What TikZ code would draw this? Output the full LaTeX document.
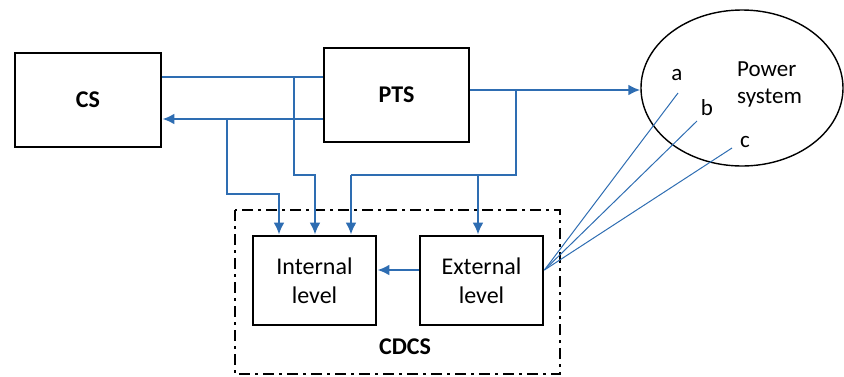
\documentclass[tikz,border=0pt]{standalone}
\usepackage{fontspec}
\setmainfont{Carlito}
\usetikzlibrary{arrows.meta,shapes.geometric}

\definecolor{flowblue}{RGB}{46,109,178}

\tikzset{
  blk/.style={draw=black, line width=2.8pt, inner sep=0pt,
    font=\fontsize{24}{29}\selectfont, align=center},
  flow/.style={draw=flowblue, line width=2.6pt},
  flowarr/.style={flow, -{Latex[length=12pt,width=11pt]}},
  tap/.style={draw=flowblue, line width=1pt},
  lbl/.style={font=\fontsize{23}{27}\selectfont, inner sep=0pt}
}

\begin{document}
\begin{tikzpicture}[x=1pt,y=-1pt]
\useasboundingbox (0,0) rectangle (844,376);

% blocks
\node[blk, minimum width=146pt, minimum height=94pt] (cs) at (88,100) {\bfseries CS};
\node[blk, minimum width=145pt, minimum height=94pt] (pts) at (396.5,95) {\bfseries PTS};
\node[blk, minimum width=123pt, minimum height=89pt] (intl) at (314.5,280.5) {Internal\\level};
\node[blk, minimum width=123pt, minimum height=89pt] (extl) at (481.5,280.5) {External\\level};
\node[ellipse, draw=black, line width=1.4pt, minimum width=202pt, minimum height=156pt] (pwr) at (742,88) {};

% CDCS frame
\draw[line width=2.8pt, dash pattern=on 11pt off 5pt on 3pt off 5pt] (235,210) rectangle (560,374);
\node[lbl, font=\fontsize{24}{27}\selectfont\bfseries] (cdcs) at (405,347) {CDCS};

% labels in the power system
\node[lbl, anchor=west, align=left] (pwrtxt) at (737,84) {Power\\system};
\node[lbl] (la) at (677,75) {a};
\node[lbl] (lb) at (707,108) {b};
\node[lbl] (lc) at (745,142) {c};

% helper points
\coordinate (topln) at (0,77);
\coordinate (botln) at (0,119);
\coordinate (pwrln) at (0,90);
\coordinate (lvlln) at (0,270);
\coordinate (j1) at (294,77);
\coordinate (j2) at (227,119);
\coordinate (j3) at (516,90);
\coordinate (j4) at (478,175);
\coordinate (pa) at (678,93);
\coordinate (pb) at (697,121);
\coordinate (pc) at (732,148);

% CS <-> PTS
\draw[flow] (cs.east |- topln) -- (pts.west |- topln);
\draw[flowarr] (pts.west |- botln) -- (cs.east |- botln);
\draw[flowarr] (pts.east |- pwrln) -- (pwr.west |- pwrln);

% feeds into the levels
\draw[flowarr] (j1) -- (294,175) -- (315,175) -- (intl.north -| 315,0);
\draw[flowarr] (j2) -- (227,194) -- (279,194) -- (intl.north -| 279,0);
\draw[flow] (j3) -- (516,175) -- (351,175);
\draw[flowarr] (351,175) -- (intl.north -| 351,0);
\draw[flowarr] (j4) -- (extl.north -| j4);
\draw[flowarr] (extl.west |- lvlln) -- (intl.east |- lvlln);

% measurement taps
\foreach \p in {pa,pb,pc}
  \draw[tap] (extl.east |- lvlln) -- (\p);
\end{tikzpicture}
\end{document}
